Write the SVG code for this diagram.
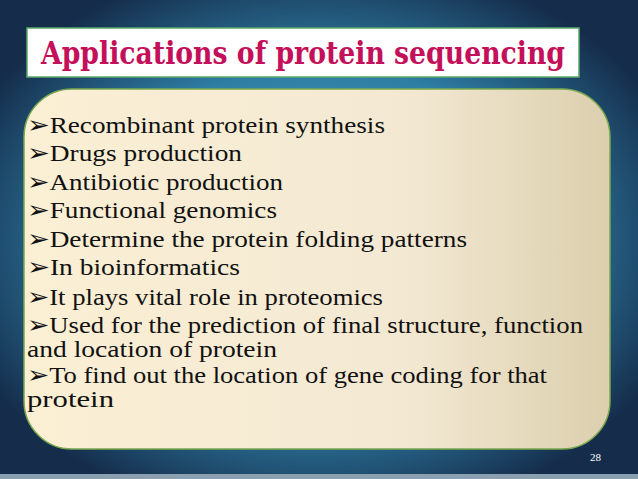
<svg xmlns="http://www.w3.org/2000/svg" width="638" height="479" viewBox="0 0 638 479">
<defs>
<radialGradient id="bg" cx="50%" cy="50%" r="60%">
<stop offset="0" stop-color="#4aa6c8"/><stop offset="0.6" stop-color="#2e7da3"/><stop offset="1" stop-color="#152c4a"/>
</radialGradient>
<linearGradient id="card" x1="0" y1="0" x2="1" y2="0">
<stop offset="0" stop-color="#fbefd4"/><stop offset="0.65" stop-color="#f3e9d3"/><stop offset="1" stop-color="#dccfae"/>
</linearGradient>
<style>
.t{font-size:24px;fill:#111}
.h{font-weight:bold;font-size:31px;fill:#c4105a;stroke:#fff;stroke-width:0.8;paint-order:stroke}
</style>
</defs>
<rect width="638" height="479" fill="url(#bg)"/>
<rect x="0" y="474" width="638" height="5" fill="#8aa0b0"/>
<g id="title">
<rect x="27" y="28" width="552" height="49" fill="#fff" stroke="#5aa86a" stroke-width="1.5"/>
<text class="h" font-family="'DejaVu Serif', 'Liberation Serif', serif" x="41" y="64" textLength="524" lengthAdjust="spacingAndGlyphs">Applications of protein sequencing</text>
</g>
<g id="content" font-family="'Liberation Serif', 'DejaVu Serif', serif">
<rect x="24" y="89" width="586" height="360" rx="48" fill="url(#card)" stroke="#7aa84e" stroke-width="1.5"/>
<text class="t" x="27" y="133" textLength="358" lengthAdjust="spacingAndGlyphs">➢Recombinant protein synthesis</text>
<text class="t" x="27" y="161" textLength="215" lengthAdjust="spacingAndGlyphs">➢Drugs production</text>
<text class="t" x="27" y="190" textLength="256" lengthAdjust="spacingAndGlyphs">➢Antibiotic production</text>
<text class="t" x="27" y="218" textLength="250" lengthAdjust="spacingAndGlyphs">➢Functional genomics</text>
<text class="t" x="27" y="247" textLength="440" lengthAdjust="spacingAndGlyphs">➢Determine the protein folding patterns</text>
<text class="t" x="27" y="275" textLength="213" lengthAdjust="spacingAndGlyphs">➢In bioinformatics</text>
<text class="t" x="27" y="305" textLength="356" lengthAdjust="spacingAndGlyphs">➢It plays vital role in proteomics</text>
<text class="t" x="27" y="333" textLength="556" lengthAdjust="spacingAndGlyphs">➢Used for the prediction of final structure, function</text>
<text class="t" x="27" y="357" textLength="250" lengthAdjust="spacingAndGlyphs">and location of protein</text>
<text class="t" x="27" y="383" textLength="520" lengthAdjust="spacingAndGlyphs">➢To find out the location of gene coding for that</text>
<text class="t" x="27" y="407" textLength="87" lengthAdjust="spacingAndGlyphs">protein</text>
</g>
<text x="590" y="461" font-family="'Liberation Serif', serif" font-size="11" fill="#fff">28</text>
</svg>
